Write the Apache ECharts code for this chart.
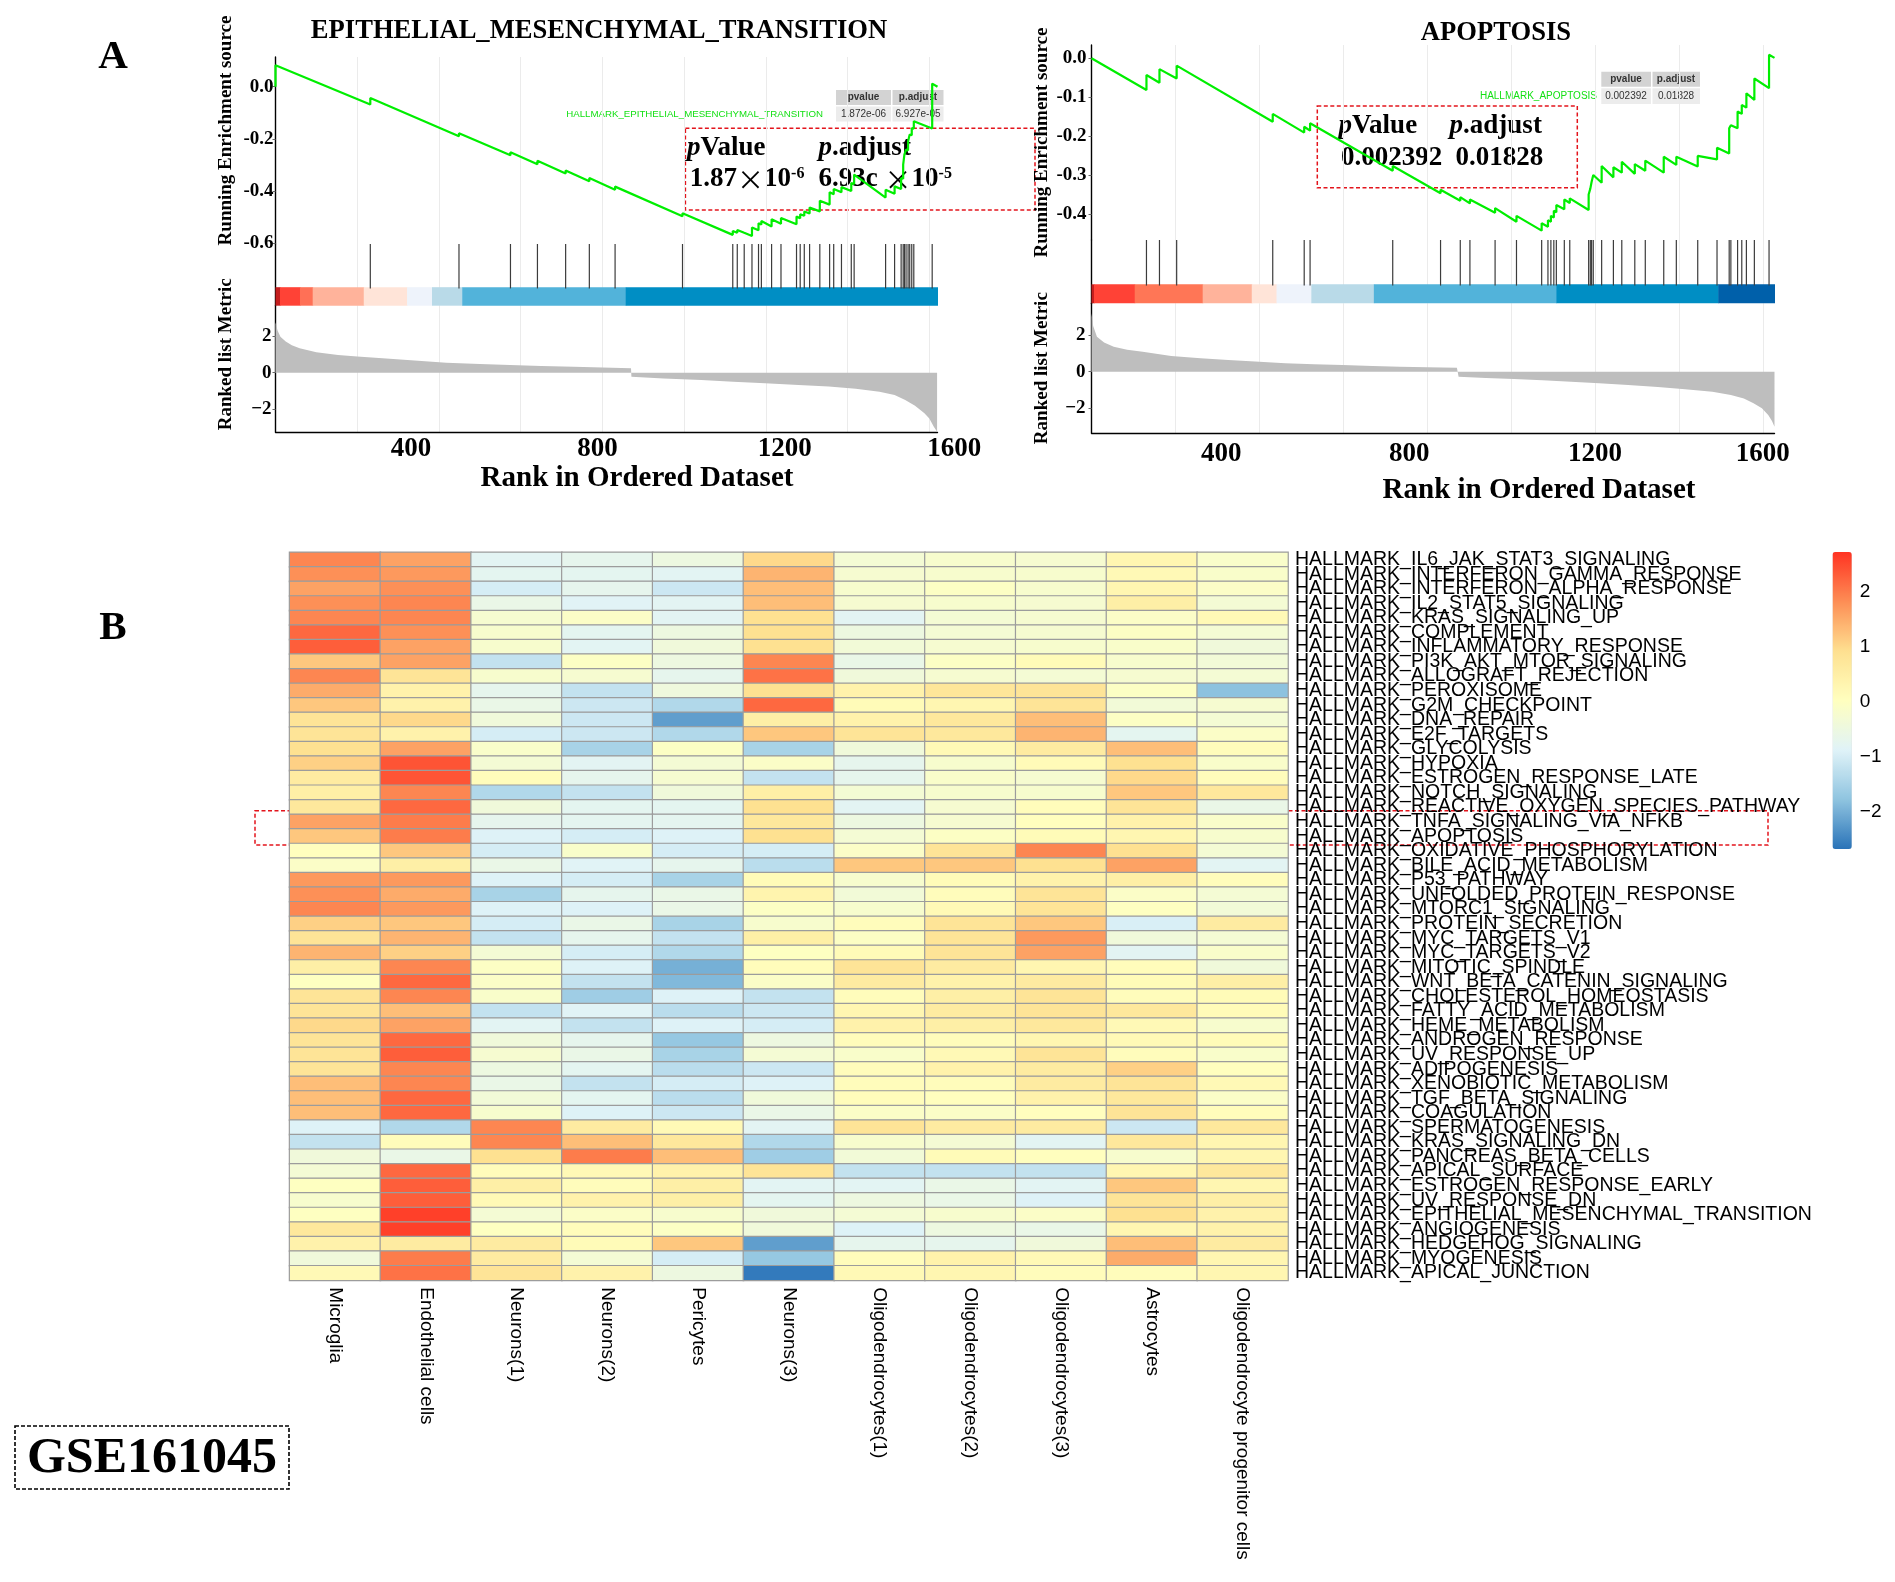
<!DOCTYPE html>
<html>
<head>
<meta charset="utf-8">
<script src="https://cdn.jsdelivr.net/npm/echarts@6/dist/echarts.min.js"></script>
<style>
  html, body { margin: 0; padding: 0; background: #fff; }
  #main { width: 1895px; height: 1582px; }
</style>
</head>
<body>
<div id="main"></div>
<script>
// ---------- Panel A, left: EPITHELIAL_MESENCHYMAL_TRANSITION ----------
const emtN = 1620;
const emtHits = [232, 449, 575, 641, 710, 768, 831, 996, 1119, 1130, 1147, 1166, 1182, 1189, 1214, 1237,
  1275, 1284, 1294, 1307, 1332, 1356, 1366, 1385, 1409, 1416, 1493, 1515, 1531, 1536, 1539, 1543,
  1548, 1552, 1557, 1562, 1607];
// running enrichment score, [rank, ES] read at each step
const emtES = [[0, 0], [0, 0.082], [232, -0.068], [232, -0.043], [449, -0.190], [449, -0.178],
  [575, -0.263], [575, -0.251], [641, -0.297], [641, -0.284], [710, -0.333], [710, -0.321],
  [768, -0.362], [768, -0.350], [831, -0.395], [831, -0.383], [996, -0.497], [996, -0.485],
  [1119, -0.568], [1119, -0.553], [1130, -0.560], [1130, -0.549], [1147, -0.560], [1147, -0.553],
  [1166, -0.572], [1166, -0.540], [1182, -0.550], [1182, -0.523], [1189, -0.528], [1189, -0.515],
  [1214, -0.536], [1214, -0.508], [1237, -0.525], [1237, -0.503], [1275, -0.527], [1275, -0.498],
  [1284, -0.504], [1284, -0.489], [1294, -0.495], [1294, -0.478], [1307, -0.486], [1307, -0.463],
  [1332, -0.478], [1332, -0.437], [1356, -0.452], [1356, -0.405], [1366, -0.412], [1366, -0.392],
  [1385, -0.405], [1385, -0.385], [1409, -0.400], [1409, -0.369], [1416, -0.373], [1416, -0.337],
  [1493, -0.425], [1493, -0.395], [1515, -0.410], [1515, -0.382], [1531, -0.392], [1531, -0.350],
  [1536, -0.353], [1536, -0.299], [1539, -0.301], [1539, -0.260], [1543, -0.263], [1543, -0.241],
  [1548, -0.244], [1548, -0.209], [1552, -0.212], [1552, -0.183], [1557, -0.186], [1557, -0.158],
  [1562, -0.161], [1562, -0.132], [1607, -0.160], [1607, 0.012], [1620, 0.0]];
const emtMetric = [[0, 2.75], [5, 2.3], [12, 1.97], [25, 1.7], [40, 1.5], [59, 1.33], [100, 1.12],
  [153, 0.97], [200, 0.88], [262, 0.79], [340, 0.67], [418, 0.55], [500, 0.48], [574, 0.42],
  [650, 0.37], [730, 0.33], [800, 0.29], [870, 0.24], [871, -0.22], [950, -0.32], [1042, -0.40],
  [1120, -0.49], [1198, -0.58], [1280, -0.67], [1354, -0.76], [1420, -0.88], [1478, -1.04],
  [1515, -1.22], [1541, -1.49], [1565, -1.8], [1588, -2.22], [1600, -2.5], [1611, -2.95], [1619, -3.22]];
const emtBandBreaks = [0, 11, 60, 91, 216, 322, 383, 457, 857, 1620];

// ---------- Panel A, right: APOPTOSIS ----------
const apoN = 1628;
const apoHits = [131, 162, 203, 432, 507, 521, 718, 832, 879, 902, 962, 1013, 1073, 1088, 1095, 1102,
  1108, 1127, 1140, 1185, 1189, 1192, 1196, 1216, 1244, 1264, 1295, 1320, 1364, 1394, 1445, 1491,
  1520, 1524, 1540, 1550, 1561, 1580, 1615];
const apoES = [[0, 0], [131, -0.0815], [131, -0.043], [162, -0.063], [162, -0.028], [203, -0.052],
  [203, -0.019], [432, -0.163], [432, -0.143], [507, -0.191], [507, -0.176], [521, -0.186],
  [521, -0.167], [718, -0.289], [718, -0.277], [832, -0.347], [832, -0.338], [879, -0.366],
  [879, -0.357], [902, -0.373], [902, -0.363], [962, -0.397], [962, -0.385], [1013, -0.420],
  [1013, -0.405], [1073, -0.443], [1073, -0.424], [1088, -0.433], [1088, -0.416], [1095, -0.420],
  [1095, -0.405], [1102, -0.409], [1102, -0.392], [1108, -0.396], [1108, -0.377], [1127, -0.388],
  [1127, -0.363], [1140, -0.372], [1140, -0.360], [1185, -0.390], [1185, -0.350], [1189, -0.352],
  [1189, -0.335], [1192, -0.337], [1192, -0.318], [1196, -0.320], [1196, -0.300], [1216, -0.320],
  [1216, -0.277], [1244, -0.306], [1244, -0.280], [1264, -0.294], [1264, -0.266], [1295, -0.297],
  [1295, -0.272], [1320, -0.289], [1320, -0.263], [1364, -0.294], [1364, -0.253], [1394, -0.274],
  [1394, -0.253], [1445, -0.278], [1445, -0.251], [1491, -0.260], [1491, -0.230], [1520, -0.245],
  [1520, -0.180], [1524, -0.182], [1524, -0.172], [1540, -0.180], [1540, -0.137], [1550, -0.143],
  [1550, -0.120], [1561, -0.127], [1561, -0.090], [1580, -0.107], [1580, -0.052], [1615, -0.077],
  [1615, 0.009], [1628, 0.001]];
const apoMetric = [[0, 3.19], [4, 2.5], [13, 1.91], [30, 1.6], [53, 1.37], [85, 1.2], [122, 1.09],
  [190, 0.86], [260, 0.74], [326, 0.64], [400, 0.54], [462, 0.46], [530, 0.41], [598, 0.37],
  [670, 0.31], [735, 0.27], [800, 0.24], [871, 0.22], [875, -0.27], [940, -0.34], [1007, -0.40],
  [1075, -0.47], [1143, -0.55], [1210, -0.63], [1279, -0.73], [1350, -0.84], [1415, -0.96],
  [1480, -1.1], [1524, -1.27], [1555, -1.47], [1578, -1.73], [1598, -2.0], [1613, -2.37],
  [1622, -2.7], [1628, -3.01]];
const apoBandBreaks = [0, 6, 103, 265, 382, 441, 524, 673, 1108, 1494, 1628];

const bandColorsEmt = ['#c41e1e', '#ff4236', '#ff7056', '#ffb39b', '#ffe4d8', '#eef3fb', '#b9dae8', '#52b3da', '#008ec4'];
const bandColorsApo = ['#c41e1e', '#ff4236', '#ff7656', '#ffb39b', '#ffe4d8', '#eef3fb', '#b9dae8', '#52b3da', '#008ec4', '#0060aa'];
const rankTicks = [400, 800, 1200, 1600];

// ---------- Panel B: heatmap ----------
const cellTypes = ['Microglia', 'Endothelial cells', 'Neurons(1)', 'Neurons(2)', 'Pericytes', 'Neurons(3)',
  'Oligodendrocytes(1)', 'Oligodendrocytes(2)', 'Oligodendrocytes(3)', 'Astrocytes',
  'Oligodendrocyte progenitor cells'];
const pathways = ['IL6_JAK_STAT3_SIGNALING', 'INTERFERON_GAMMA_RESPONSE', 'INTERFERON_ALPHA_RESPONSE',
  'IL2_STAT5_SIGNALING', 'KRAS_SIGNALING_UP', 'COMPLEMENT', 'INFLAMMATORY_RESPONSE',
  'PI3K_AKT_MTOR_SIGNALING', 'ALLOGRAFT_REJECTION', 'PEROXISOME', 'G2M_CHECKPOINT', 'DNA_REPAIR',
  'E2F_TARGETS', 'GLYCOLYSIS', 'HYPOXIA', 'ESTROGEN_RESPONSE_LATE', 'NOTCH_SIGNALING',
  'REACTIVE_OXYGEN_SPECIES_PATHWAY', 'TNFA_SIGNALING_VIA_NFKB', 'APOPTOSIS', 'OXIDATIVE_PHOSPHORYLATION',
  'BILE_ACID_METABOLISM', 'P53_PATHWAY', 'UNFOLDED_PROTEIN_RESPONSE', 'MTORC1_SIGNALING',
  'PROTEIN_SECRETION', 'MYC_TARGETS_V1', 'MYC_TARGETS_V2', 'MITOTIC_SPINDLE', 'WNT_BETA_CATENIN_SIGNALING',
  'CHOLESTEROL_HOMEOSTASIS', 'FATTY_ACID_METABOLISM', 'HEME_METABOLISM', 'ANDROGEN_RESPONSE',
  'UV_RESPONSE_UP', 'ADIPOGENESIS', 'XENOBIOTIC_METABOLISM', 'TGF_BETA_SIGNALING', 'COAGULATION',
  'SPERMATOGENESIS', 'KRAS_SIGNALING_DN', 'PANCREAS_BETA_CELLS', 'APICAL_SURFACE',
  'ESTROGEN_RESPONSE_EARLY', 'UV_RESPONSE_DN', 'EPITHELIAL_MESENCHYMAL_TRANSITION', 'ANGIOGENESIS',
  'HEDGEHOG_SIGNALING', 'MYOGENESIS', 'APICAL_JUNCTION'].map(s => 'HALLMARK_' + s);
// one row per pathway, columns in cellTypes order
const scores = [
  [1.9, 1.6, -0.8, -0.7, -0.5, 1.0, -0.3, -0.2, -0.25, 0.3, -0.15],
  [1.8, 1.7, -0.75, -0.75, -0.8, 1.4, -0.25, -0.2, -0.2, 0.2, -0.15],
  [1.6, 1.8, -1.0, -0.7, -1.1, 1.3, -0.2, -0.05, -0.2, 0.3, -0.1],
  [1.8, 1.9, -0.6, -0.85, -0.8, 1.3, -0.25, -0.2, -0.25, 0.5, -0.3],
  [1.9, 1.9, -0.25, -0.1, -0.8, 0.9, -0.8, -0.3, -0.25, -0.1, 0.2],
  [2.2, 1.8, -0.2, -0.75, -0.5, 0.9, -0.5, -0.3, -0.25, -0.05, -0.3],
  [2.3, 1.6, -0.2, -0.8, -0.4, 0.9, -0.35, -0.25, -0.2, -0.15, -0.4],
  [1.2, 1.6, -1.2, -0.05, -0.5, 1.9, -0.6, -0.05, 0.15, -0.2, -0.35],
  [1.9, 0.8, -0.2, -0.25, -0.7, 2.1, -0.4, -0.25, -0.3, -0.25, -0.3],
  [1.5, 0.4, -0.7, -1.2, -0.45, 0.9, 0.4, 0.75, 0.8, -0.05, -1.8],
  [1.2, 0.4, -0.6, -1.1, -1.4, 2.2, 0.15, 0.3, 0.8, -0.35, -0.25],
  [0.8, 1.0, -0.4, -1.1, -2.2, 0.5, 0.4, 0.7, 1.3, -0.05, -0.3],
  [0.8, 0.4, -1.0, -1.1, -1.4, 1.2, 0.8, 0.7, 1.4, -0.75, -0.1],
  [0.9, 1.6, -0.15, -1.5, -0.05, -1.5, -0.4, 0.2, 0.6, 1.3, 0.1],
  [1.1, 2.4, -0.3, -0.8, -0.3, -0.1, -0.7, -0.2, 0.15, 0.9, -0.15],
  [0.6, 2.4, 0.1, -0.7, -0.25, -1.2, -0.7, -0.15, -0.25, 1.0, 0.1],
  [0.5, 1.9, -1.4, -1.2, -0.4, 0.5, -0.3, -0.2, -0.2, 1.2, 0.7],
  [0.7, 2.2, -0.4, -0.75, -0.75, 0.9, -0.8, -0.25, 0.1, 0.8, -0.6],
  [1.6, 2.0, -0.7, -0.75, -0.75, 0.7, -0.5, -0.25, 0.05, 0.4, -0.15],
  [1.2, 2.0, -0.9, -1.0, -0.9, 0.9, -0.3, -0.05, 0.15, 0.3, -0.2],
  [0.05, 1.2, -1.0, -0.15, -1.0, -1.0, -0.1, 0.8, 1.9, 0.9, -0.3],
  [-0.1, 0.5, -0.6, -0.85, -0.7, -1.3, 1.2, 1.2, 0.9, 1.6, -0.8],
  [1.7, 1.7, -0.9, -1.0, -1.5, 0.15, -0.2, 0.15, 0.4, 0.5, 0.1],
  [1.8, 1.5, -1.5, -0.7, -0.6, 0.35, -0.35, 0.1, 0.8, -0.1, -0.3],
  [1.9, 1.7, -0.9, -0.9, -0.6, -0.05, -0.2, 0.2, 0.8, 0.0, -0.35],
  [1.1, 1.2, -1.0, -0.6, -1.5, -0.2, 0.1, 0.8, 1.2, -0.95, 0.6],
  [0.8, 1.4, -1.2, -0.7, -1.2, 0.5, -0.05, 0.8, 1.7, -0.4, -0.3],
  [1.4, 1.1, -0.3, -1.0, -1.4, 0.0, 0.15, 0.8, 1.6, -0.8, -0.15],
  [0.5, 1.9, -0.05, -0.9, -2.0, 0.1, 0.8, 0.6, 0.3, 0.1, -0.4],
  [0.0, 2.2, -0.1, -1.2, -1.9, -0.1, 0.6, 0.4, 0.6, 0.15, 0.5],
  [0.8, 1.9, -0.15, -1.6, -0.9, -1.2, 0.1, 0.5, 0.8, 0.1, 0.15],
  [0.8, 1.3, -1.2, -0.85, -1.3, -1.1, 0.3, 0.6, 0.8, 0.7, 0.15],
  [1.0, 1.6, -0.8, -1.2, -0.9, -1.0, 0.4, 0.5, 0.7, 0.2, -0.2],
  [0.8, 2.2, -0.4, -0.7, -1.7, -0.5, 0.1, 0.1, 0.3, 0.2, 0.15],
  [0.8, 2.3, -0.25, -0.6, -1.5, -0.3, -0.15, 0.2, 0.8, 0.1, -0.15],
  [0.8, 1.9, -0.5, -0.75, -1.3, -1.1, 0.1, 0.4, 0.6, 1.1, 0.05],
  [1.3, 1.9, -0.6, -1.2, -1.0, -0.9, 0.1, 0.1, 0.6, 0.8, 0.2],
  [1.3, 2.2, -0.35, -0.75, -1.3, -0.4, 0.1, 0.05, 0.4, 0.7, -0.1],
  [1.3, 2.2, -0.2, -0.9, -1.1, -0.6, -0.1, -0.1, 0.05, 0.8, 0.1],
  [-0.9, -1.4, 1.9, 0.6, 0.2, -0.8, 0.8, 0.6, 0.6, -1.1, 0.7],
  [-1.2, 0.1, 1.9, 1.3, 0.7, -1.4, -0.2, -0.3, -0.8, 0.7, 0.3],
  [-0.4, -0.6, 0.9, 2.0, 1.3, -1.6, -0.35, 0.15, 0.05, -0.2, 0.3],
  [-0.3, 2.2, 0.1, 0.2, 0.4, 0.8, -1.2, -1.2, -1.2, 0.3, 0.7],
  [0.0, 2.3, 0.5, 0.1, 0.5, -0.8, -0.8, -0.6, -0.8, 1.2, 0.3],
  [-0.2, 2.3, 0.2, 0.4, 0.5, -0.75, -0.5, -0.6, -0.9, 0.8, 0.5],
  [0.0, 2.6, -0.3, -0.1, -0.2, -0.4, -0.3, -0.2, -0.1, 0.9, 0.4],
  [0.7, 2.6, 0.0, 0.1, -0.05, -0.4, -0.9, -0.5, -0.6, 0.3, 0.4],
  [0.4, 0.6, 0.6, 0.15, 1.2, -2.2, -0.7, -0.7, -0.4, 1.3, 0.6],
  [-0.4, 2.0, 0.6, -0.3, -1.0, -1.7, 0.1, 0.4, 0.2, 1.5, 0.3],
  [0.2, 2.1, 0.8, 0.4, -0.5, -2.6, 0.2, 0.3, 0.1, 0.1, 0.3]
];
const scaleMin = -2.68, scaleMax = 2.73;
const scaleTicks = [-2, -1, 0, 1, 2];
const heatPalette = ['#2a73b8', '#8fc4e0', '#e0f3f8', '#ffffbf', '#fee090', '#fd8d55', '#ff3322'];

// ---------- helpers ----------
const SERIF = '"Liberation Serif", "Times New Roman", serif';
const SANS = '"Liberation Sans", Arial, sans-serif';

function hitItem(params, api) {
  const cs = params.coordSys;
  const x = api.coord([api.value(0), 0])[0];
  return {
    type: 'line',
    shape: { x1: x, y1: cs.y, x2: x, y2: cs.y + cs.height * 0.72 },
    style: { stroke: '#3c3c3c', lineWidth: 1.2 }
  };
}

function bandItem(params, api) {
  const cs = params.coordSys;
  const x0 = api.coord([api.value(0), 0])[0];
  const x1 = api.coord([api.value(1), 0])[0];
  return {
    type: 'rect',
    shape: { x: x0, y: cs.y + cs.height * 0.7, width: x1 - x0 + 0.5, height: cs.height * 0.3 },
    style: { fill: api.visual('color') }
  };
}

function bandData(breaks, colors) {
  return breaks.slice(0, -1).map((b, i) => ({ value: [b, breaks[i + 1], 0.5], itemStyle: { color: colors[i] } }));
}

// the original figure prints its rank labels a little off the grid lines;
// shift each label sideways by the given pixels to match
function shiftedLabels(shifts) {
  const rich = {};
  shifts.forEach((d, i) => {
    rich['o' + i] = {
      fontFamily: SERIF, fontWeight: 'bold', fontSize: 27, color: '#000',
      padding: d < 0 ? [0, -2 * d, 0, 0] : [0, 0, 0, 2 * d]
    };
  });
  return rich;
}

function rankAxes(gi, n, bottom, nameShift, nameGap, labelMargin, shifts) {
  const ax = {
    gridIndex: gi, type: 'value', min: 0, max: n, interval: 200,
    axisTick: { show: false },
    axisLabel: { show: false },
    axisLine: { show: false },
    splitLine: { show: true, showMinLine: false, showMaxLine: false, lineStyle: { color: '#ebebeb', width: 1 } }
  };
  if (bottom) {
    ax.axisLine = { show: true, onZero: false, lineStyle: { color: '#000', width: 1.4 } };
    ax.axisLabel = {
      show: true, customValues: rankTicks, margin: labelMargin,
      formatter: v => '{o' + rankTicks.indexOf(v) + '|' + v + '}',
      rich: shiftedLabels(shifts),
      fontFamily: SERIF, fontWeight: 'bold', fontSize: 27, color: '#000'
    };
    ax.name = 'Rank in Ordered Dataset';
    ax.nameLocation = 'middle';
    ax.nameGap = nameGap;
    ax.nameTextStyle = { fontFamily: SERIF, fontWeight: 'bold', fontSize: 29, color: '#000', padding: [0, 0, 0, nameShift] };
  }
  return ax;
}

function leftAxis(gi, min, max, ticks, fmt, name, shift, nameGap, margin) {
  const ax = {
    gridIndex: gi, type: 'value', min: min, max: max,
    axisLine: { show: true, onZero: false, lineStyle: { color: '#000', width: 1.4 } },
    axisTick: { show: !!ticks, customValues: ticks || [], length: 3, lineStyle: { color: '#666' } },
    axisLabel: {
      show: !!ticks, customValues: ticks || [], formatter: fmt, margin: margin,
      fontFamily: SERIF, fontWeight: 'bold', fontSize: 19, color: '#000'
    },
    splitLine: { show: false }
  };
  if (name) {
    ax.name = name;
    ax.nameLocation = 'middle';
    ax.nameGap = nameGap;
    ax.nameTextStyle = { fontFamily: SERIF, fontWeight: 'bold', fontSize: 19, color: '#000', padding: [0, 0, 0, shift] };
  }
  return ax;
}

const esFmt = v => v.toFixed(1);
const metFmt = v => String(v).replace('-', '\u2212');

// ---------- graphic annotations ----------
function txt(x, y, text, size, opts) {
  return {
    type: 'text', x: x, y: y, silent: true,
    style: Object.assign({
      text: text, fontFamily: SERIF, fontWeight: 'bold', fontSize: size, fill: '#000',
      align: 'left', verticalAlign: 'middle'
    }, opts || {})
  };
}
const pRich = {
  i: { fontFamily: SERIF, fontWeight: 'bold', fontStyle: 'italic', fontSize: 27, fill: '#000' },
  b: { fontFamily: SERIF, fontWeight: 'bold', fontSize: 27, fill: '#000' },
  x: { fontFamily: '"Noto Sans CJK SC", "DejaVu Sans", sans-serif', fontWeight: 'normal', fontSize: 27, fill: '#000' },
  s: { fontFamily: SERIF, fontWeight: 'bold', fontSize: 16, fill: '#000', verticalAlign: 'top' }
};
function richTxt(x, y, text) {
  return { type: 'text', x: x, y: y, silent: true, style: { text: text, rich: pRich, align: 'left', verticalAlign: 'middle' } };
}
function dashBox(x, y, w, h, color, dash, lw) {
  return { type: 'rect', silent: true, shape: { x: x, y: y, width: w, height: h },
    style: { fill: null, stroke: color, lineWidth: lw, lineDash: dash } };
}
function cell(x, y, w, h, fill) {
  return { type: 'rect', silent: true, shape: { x: x, y: y, width: w, height: h }, style: { fill: fill } };
}
function small(x, y, text, bold, align, color, size) {
  return { type: 'text', x: x, y: y, silent: true,
    style: { text: text, fontFamily: SANS, fontWeight: bold ? 'bold' : 'normal', fontSize: size || 10,
      fill: color || '#333', align: align || 'center', verticalAlign: 'middle' } };
}

const graphics = [
  txt(113, 57, 'A', 41, { align: 'center' }),
  txt(113, 628, 'B', 41, { align: 'center' }),
  dashBox(15, 1426, 274, 63, '#000', [4, 2], 1.6),
  txt(152, 1459, 'GSE161045', 50, { align: 'center' }),
  // left p-value table
  cell(836, 90, 55, 15, '#d3d3d3'), cell(892.5, 90, 51, 15, '#d3d3d3'),
  cell(836, 106.5, 55, 15, '#ececec'), cell(892.5, 106.5, 51, 15, '#ececec'),
  small(863.5, 97.7, 'pvalue', true), small(918, 97.7, 'p.adjust', true),
  small(863.5, 114.2, '1.872e-06'), small(918, 114.2, '6.927e-05'),
  small(823, 114.3, 'HALLMARK_EPITHELIAL_MESENCHYMAL_TRANSITION', false, 'right', '#14e014', 9.7),
  // right p-value table
  cell(1601.3, 71.7, 49.7, 15, '#d3d3d3'), cell(1652.5, 71.7, 47.5, 15, '#d3d3d3'),
  cell(1601.3, 88.3, 49.7, 15.7, '#ececec'), cell(1652.5, 88.3, 47.5, 15.7, '#ececec'),
  small(1626, 79.3, 'pvalue', true), small(1676, 79.3, 'p.adjust', true),
  small(1626, 96.2, '0.002392'), small(1676, 96.2, '0.01828'),
  small(1597, 96.2, 'HALLMARK_APOPTOSIS', false, 'right', '#14e014', 10),
  // red dashed call-outs
  dashBox(685.4, 128.3, 349.6, 81.7, '#e3141c', [4, 2.5], 1.5),
  richTxt(687, 148, '{i|p}{b|Value}'),
  richTxt(818.6, 148, '{i|p}{b|.adjust}'),
  richTxt(689.8, 179.5, '{b|1.87}{x|\u00d7}{b|10}{s|-6}'),
  richTxt(818.6, 179.5, '{b|6.93c }{x|\u00d7}{b|10}{s|-5}'),
  dashBox(1317.3, 106, 260, 81.7, '#e3141c', [4, 2.5], 1.5),
  richTxt(1338.6, 126, '{i|p}{b|Value}'),
  richTxt(1449.6, 126, '{i|p}{b|.adjust}'),
  richTxt(1341, 158.5, '{b|0.002392}'),
  richTxt(1455.5, 158.5, '{b|0.01828}'),
  dashBox(255, 810.7, 1513, 34.3, '#e3141c', [4, 2.5], 1.5)
];

// ---------- chart ----------
const chart = echarts.init(document.getElementById('main'), null, { renderer: 'canvas' });

const heatData = [];
scores.forEach((row, r) => row.forEach((v, c) => heatData.push([c, r, v])));

const option = {
  backgroundColor: '#fff',
  animation: false,
  title: [
    { text: 'EPITHELIAL_MESENCHYMAL_TRANSITION', left: 594, top: 13, textAlign: 'center',
      textStyle: { fontFamily: SERIF, fontWeight: 'bold', fontSize: 26.6, color: '#000' } },
    { text: 'APOPTOSIS', left: 1491, top: 15, textAlign: 'center',
      textStyle: { fontFamily: SERIF, fontWeight: 'bold', fontSize: 26.6, color: '#000' } }
  ],
  grid: [
    { left: 275.5, top: 57, width: 662, height: 187, outerBoundsMode: 'none' },
    { left: 275.5, top: 244, width: 662, height: 61.7, outerBoundsMode: 'none' },
    { left: 275.5, top: 305.7, width: 662, height: 126.3, outerBoundsMode: 'none' },
    { left: 1091.5, top: 45, width: 683, height: 195, outerBoundsMode: 'none' },
    { left: 1091.5, top: 240, width: 683, height: 63.3, outerBoundsMode: 'none' },
    { left: 1091.5, top: 303.3, width: 683, height: 129.7, outerBoundsMode: 'none' },
    { left: 289.6, top: 552.3, width: 998.4, height: 728, outerBoundsMode: 'none' },
    { left: 1832.5, top: 552, width: 19.3, height: 297, outerBoundsMode: 'none' }
  ],
  xAxis: [
    rankAxes(0, emtN, false),
    rankAxes(1, emtN, false),
    rankAxes(2, emtN, true, 61, 29, 4, [-28, -5, 19, 25]),
    rankAxes(3, apoN, false),
    rankAxes(4, apoN, false),
    rankAxes(5, apoN, true, 212, 43, 8, [-38, -18, 0, 0]),
    {
      gridIndex: 6, type: 'category', data: cellTypes, position: 'bottom',
      axisLine: { show: false }, axisTick: { show: false }, splitLine: { show: false },
      axisLabel: { interval: 0, rotate: -90, margin: 7, fontFamily: SANS, fontSize: 19, color: '#000' }
    },
    { gridIndex: 7, type: 'value', show: false, min: 0, max: 1 }
  ],
  yAxis: [
    leftAxis(0, -0.603, 0.114, [0, -0.2, -0.4, -0.6], esFmt, 'Running Enrichment source', 40, 40, 2),
    leftAxis(1, 0, 1, null, null, null),
    leftAxis(2, -3.24, 3.66, [-2, 0, 2], metFmt, 'Ranked list Metric', 29, 40, 4),
    leftAxis(3, -0.467, 0.034, [0, -0.1, -0.2, -0.3, -0.4], esFmt, 'Running Enrichment source', 0, 40, 5),
    leftAxis(4, 0, 1, null, null, null),
    leftAxis(5, -3.35, 3.74, [-2, 0, 2], metFmt, 'Ranked list Metric', 0, 40, 6),
    {
      gridIndex: 6, type: 'category', data: pathways, inverse: true, position: 'right',
      axisLine: { show: false }, axisTick: { show: false }, splitLine: { show: false },
      axisLabel: { interval: 0, margin: 7, fontFamily: SANS, fontSize: 19.5, color: '#000' }
    },
    {
      gridIndex: 7, type: 'value', position: 'right', min: scaleMin, max: scaleMax,
      axisLine: { show: false }, splitLine: { show: false },
      axisTick: { show: false },
      axisLabel: { customValues: scaleTicks, formatter: metFmt, margin: 8, fontFamily: SANS, fontSize: 19, color: '#000' }
    }
  ],
  visualMap: {
    type: 'continuous', seriesIndex: 8, dimension: 2, min: scaleMin, max: scaleMax,
    calculable: false, show: true, orient: 'vertical', left: 1832.5, top: 552,
    itemWidth: 19.3, itemHeight: 297, padding: 0, text: null, hoverLink: false,
    inRange: { color: heatPalette }
  },
  series: [
    { type: 'line', xAxisIndex: 0, yAxisIndex: 0, data: emtES, symbol: 'none', silent: true,
      lineStyle: { color: '#00ee00', width: 2.2 } },
    { type: 'custom', xAxisIndex: 1, yAxisIndex: 1, renderItem: hitItem, silent: true,
      data: emtHits.map(r => [r, 0.5]), encode: { x: 0, y: 1 }, z: 3 },
    { type: 'custom', xAxisIndex: 1, yAxisIndex: 1, renderItem: bandItem, silent: true,
      data: bandData(emtBandBreaks, bandColorsEmt), encode: { x: [0, 1], y: 2 }, z: 2 },
    { type: 'line', xAxisIndex: 2, yAxisIndex: 2, data: emtMetric, symbol: 'none', silent: true,
      lineStyle: { width: 0 }, areaStyle: { color: '#bebebe', opacity: 1 } },
    { type: 'line', xAxisIndex: 3, yAxisIndex: 3, data: apoES, symbol: 'none', silent: true,
      lineStyle: { color: '#00ee00', width: 2.2 } },
    { type: 'custom', xAxisIndex: 4, yAxisIndex: 4, renderItem: hitItem, silent: true,
      data: apoHits.map(r => [r, 0.5]), encode: { x: 0, y: 1 }, z: 3 },
    { type: 'custom', xAxisIndex: 4, yAxisIndex: 4, renderItem: bandItem, silent: true,
      data: bandData(apoBandBreaks, bandColorsApo), encode: { x: [0, 1], y: 2 }, z: 2 },
    { type: 'line', xAxisIndex: 5, yAxisIndex: 5, data: apoMetric, symbol: 'none', silent: true,
      lineStyle: { width: 0 }, areaStyle: { color: '#bebebe', opacity: 1 } },
    { type: 'heatmap', xAxisIndex: 6, yAxisIndex: 6, data: heatData, silent: true, progressive: 0,
      itemStyle: { borderColor: '#9c9c9c', borderWidth: 1.2 }, emphasis: { disabled: true } }
  ],
  graphic: graphics
};

chart.setOption(option);
window.addEventListener('resize', () => chart.resize());
</script>
</body>
</html>
